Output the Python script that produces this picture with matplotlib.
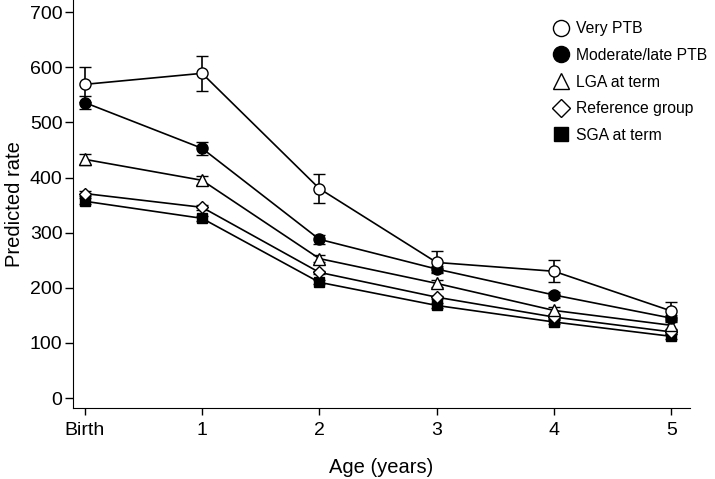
"""Predicted rate by age for birth groups, with error bars."""

import matplotlib.pyplot as plt
from matplotlib.lines import Line2D

plt.rcParams["font.family"] = ["Liberation Sans", "DejaVu Sans"]

ages = [0, 1, 2, 3, 4, 5]
age_labels = ["Birth", "1", "2", "3", "4", "5"]

very_ptb = [569, 589, 380, 246, 230, 158]
very_ptb_err = [32, 32, 26, 20, 20, 16]
moderate_ptb = [536, 453, 288, 234, 187, 145]
moderate_ptb_err = [12, 12, 8, 6, 6, 6]
lga_term = [433, 395, 253, 208, 159, 132]
lga_term_err = [10, 8, 6, 6, 6, 6]
reference = [371, 346, 228, 183, 147, 120]
reference_err = [4, 4, 3, 3, 3, 3]
sga_term = [357, 326, 210, 168, 138, 112]
sga_term_err = [5, 5, 4, 4, 4, 4]

# name, values, error, marker, face colour, marker size
series = [
    ("Very PTB", very_ptb, very_ptb_err, "o", "white", 8),
    ("Moderate/late PTB", moderate_ptb, moderate_ptb_err, "o", "black", 8),
    ("LGA at term", lga_term, lga_term_err, "^", "white", 8),
    ("Reference group", reference, reference_err, "D", "white", 6),
    ("SGA at term", sga_term, sga_term_err, "s", "black", 7),
]

fig = plt.figure(figsize=(7.15, 4.79), dpi=100)
ax = fig.add_axes([73 / 715, (479 - 408) / 479, (690 - 73) / 715, 408 / 479])

for name, vals, err, marker, face, ms in reversed(series):
    ax.errorbar(
        ages,
        vals,
        yerr=err,
        fmt="-" + marker,
        color="black",
        markerfacecolor=face,
        markeredgecolor="black",
        markeredgewidth=1.0,
        markersize=ms,
        linewidth=1.2,
        elinewidth=1.2,
        capsize=4.5,
        capthick=1.2,
        label=name,
    )

legend_handles = [
    Line2D([], [], linestyle="none", marker=m, markerfacecolor=f,
           markeredgecolor="black", markeredgewidth=1.0, markersize=s * 1.45)
    for _, _, _, m, f, s in series
]
ax.legend(
    handles=legend_handles,
    labels=[s[0] for s in series],
    loc="upper left",
    bbox_to_anchor=(547 / 715, 1 - 15 / 479),
    bbox_transform=fig.transFigure,
    frameon=False,
    fontsize=11.3,
    handlelength=1.0,
    handletextpad=0.45,
    labelspacing=0.74,
    borderaxespad=0,
)

ax.set_xlim(-0.1, 5.16)
ax.set_ylim(-18, 722)
ax.set_xticks(ages)
ax.set_xticklabels(age_labels)
ax.set_yticks(range(0, 701, 100))
ax.tick_params(axis="y", labelsize=14, length=6, width=1, pad=1.5)
ax.tick_params(axis="x", labelsize=14, length=5, width=1, pad=5)
ax.spines["top"].set_visible(False)
ax.spines["right"].set_visible(False)
ax.set_xlabel("Age (years)", fontsize=14.5, labelpad=14)
ax.set_ylabel("Predicted rate", fontsize=14.5, labelpad=4)

fig.savefig("out.png", dpi=100)
